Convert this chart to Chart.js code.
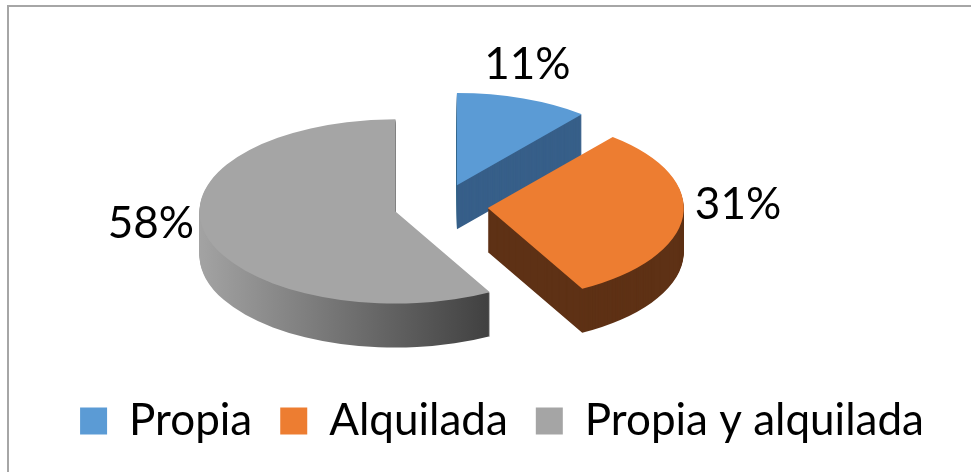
<!DOCTYPE html>
<html>
<head>
<meta charset="utf-8">
<script src="https://cdn.jsdelivr.net/npm/chart.js@4.4.1/dist/chart.umd.min.js"></script>
<style>
  html, body { margin: 0; padding: 0; background: #fff; overflow: hidden; }
  #frame { position: absolute; left: 7px; top: 5px; border-left: 2px solid #a6a6a6; border-top: 2px solid #a6a6a6; }
  canvas { display: block; }
</style>
</head>
<body>
<div id="frame"><canvas id="chart" width="986" height="475"></canvas></div>
<script>
// chart data
const categories = ['Propia', 'Alquilada', 'Propia y alquilada'];
const percentages = [11, 31, 58];
const topColors = ['#5b9bd5', '#ed7d31', '#a5a5a5'];
const sideColors = ['#375f89', '#5e3115', null]; // null -> grey gradient

// 3d look
const tilt = 0.47;      // vertical squash of the pie
const depth = 44;       // thickness in px
const explode = 47;     // distance each slice is pulled out
const pieShiftX = -61;  // plot area sits left of the legend centre
const labelGap = 12;
const labelLift = 14;
const fontSize = 44;
const fontFamily = 'Lato, "Open Sans", sans-serif';

Chart.defaults.font.family = fontFamily;

// draw one slice through the arc element, squashed and pulled out
function drawSlice(ctx, arc, dy, fill) {
  const mid = (arc.startAngle + arc.endAngle) / 2;
  ctx.save();
  ctx.translate(pieShiftX, dy);
  ctx.translate(arc.x, arc.y);
  ctx.scale(1, tilt);
  ctx.translate(-arc.x, -arc.y);
  ctx.translate(Math.cos(mid) * explode, Math.sin(mid) * explode);
  const saved = arc.options;
  arc.options = Object.assign({}, saved, { backgroundColor: fill, borderWidth: 0 });
  arc.draw(ctx);
  arc.options = saved;
  ctx.restore();
}

const pie3d = {
  id: 'pie3d',
  beforeDatasetsDraw(chart) {
    const ctx = chart.ctx;
    const arcs = chart.getDatasetMeta(0).data;

    // sides first: stacked copies going down
    arcs.forEach((arc, i) => {
      let fill = sideColors[i];
      if (!fill) {
        fill = ctx.createLinearGradient(arc.x - arc.outerRadius, 0, arc.x + arc.outerRadius, 0);
        fill.addColorStop(0, '#a3a3a3');
        fill.addColorStop(0.75, '#3f3f3f');
        fill.addColorStop(1, '#333333');
      }
      for (let d = depth; d > 0; d--) drawSlice(ctx, arc, d, fill);
    });

    // top faces
    arcs.forEach(arc => drawSlice(ctx, arc, 0, arc.options.backgroundColor));

    // percentage labels outside each slice
    const total = percentages.reduce((a, b) => a + b, 0);
    const capHalf = fontSize * 0.36;
    ctx.save();
    ctx.font = fontSize + 'px ' + fontFamily;
    ctx.fillStyle = '#000';
    ctx.textBaseline = 'alphabetic';
    arcs.forEach((arc, i) => {
      const mid = (arc.startAngle + arc.endAngle) / 2;
      const c = Math.cos(mid);
      const s = Math.sin(mid);
      const dist = explode + arc.outerRadius + labelGap;
      const x = arc.x + pieShiftX + c * dist;
      let y = arc.y + s * dist * tilt - labelLift;
      if (s > -0.5) y += capHalf;
      ctx.textAlign = c > 0.5 ? 'left' : c < -0.5 ? 'right' : 'center';
      ctx.fillText(Math.round(percentages[i] / total * 100) + '%', x, y);
    });
    ctx.restore();

    return false;
  }
};

new Chart(document.getElementById('chart'), {
  type: 'pie',
  data: {
    labels: categories,
    datasets: [{
      data: percentages,
      backgroundColor: topColors,
      borderWidth: 0,
      clip: false
    }]
  },
  options: {
    responsive: false,
    animation: false,
    events: [],
    radius: 196,
    layout: { padding: { top: 34, bottom: 29 } },
    plugins: {
      legend: {
        position: 'bottom',
        labels: {
          boxWidth: 27,
          boxHeight: 27,
          padding: 28,
          color: '#000',
          font: { family: fontFamily, size: fontSize }
        }
      },
      tooltip: { enabled: false }
    }
  },
  plugins: [pie3d]
});
</script>
</body>
</html>
